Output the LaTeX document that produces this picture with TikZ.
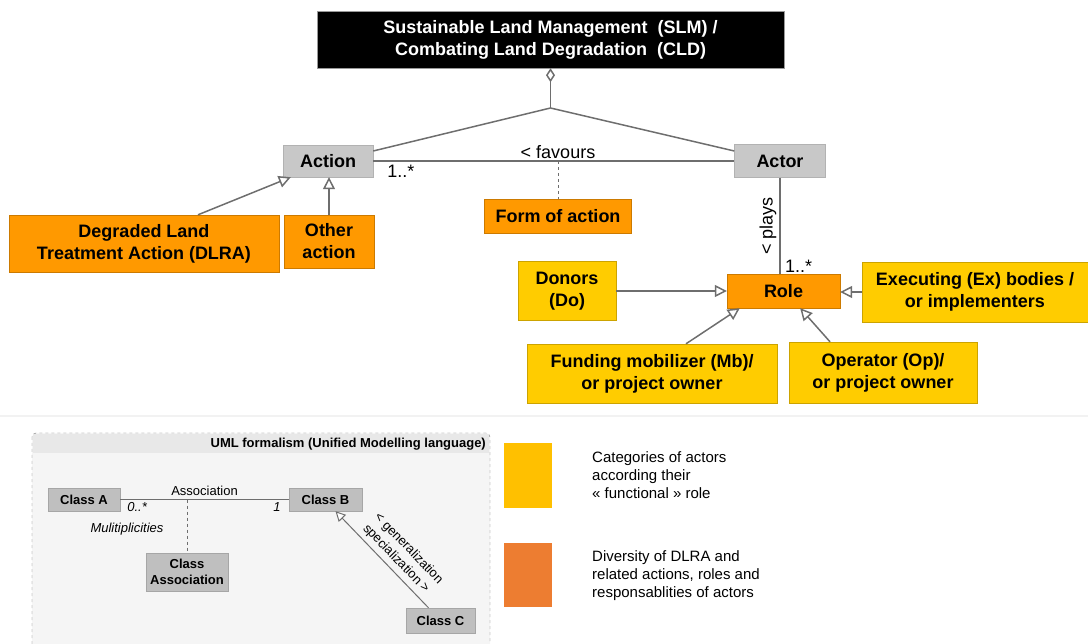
\documentclass[tikz,border=0pt]{standalone}
\usepackage{fontspec}
\setmainfont{Liberation Sans}
\usetikzlibrary{arrows.meta,calc}

\definecolor{orangebox}{HTML}{FF9900}
\definecolor{yellowbox}{HTML}{FFCC00}
\definecolor{graybox}{HTML}{C8C8C8}
\definecolor{linegray}{HTML}{6E6E6E}
\definecolor{legyellow}{HTML}{FFC000}
\definecolor{legorange}{HTML}{ED7D31}

\tikzset{
  bigfont/.style={font=\fontsize{18}{22}\selectfont\bfseries},
  lblfont/.style={font=\fontsize{18}{22}\selectfont},
  umlfont/.style={font=\fontsize{13}{16}\selectfont},
  orangebx/.style={bigfont, draw=orangebox!80!black, fill=orangebox, align=center, inner sep=0pt},
  yellowbx/.style={bigfont, draw=yellowbox!80!black, fill=yellowbox, align=center, inner sep=0pt},
  graybx/.style={bigfont, draw=black!30, fill=graybox, align=center, inner sep=0pt},
  classbx/.style={font=\fontsize{13}{16}\selectfont\bfseries, draw=black!35, fill=black!25, align=center, inner sep=0pt},
  link/.style={draw=linegray, line width=1.5pt},
  gen/.style={link, -{Triangle[open, fill=white, length=12pt, width=12pt]}},
  smallgen/.style={link, -{Triangle[open, fill=white, length=10pt, width=10pt]}},
}

\begin{document}
\begin{tikzpicture}[x=1pt, y=-1pt]
        \useasboundingbox (0,0) rectangle (1088,644);

        % main model
        \node[bigfont, fill=black, draw=black!40, text=white, align=center, minimum width=467, minimum height=57, inner sep=0pt] (slm) at (550.5,39.5) {Sustainable Land Management~~(SLM) /\\Combating Land Degradation~~(CLD)};
        \coordinate (apex) at (550.5,108);

        \node[graybx, minimum width=90, minimum height=32] (action) at (328,161) {Action};
        \node[graybx, minimum width=91, minimum height=33] (actor) at (780,161) {Actor};
        \node[orangebx, minimum width=147, minimum height=34] (form) at (558,216) {Form of action};
        \node[orangebx, minimum width=270, minimum height=57] (dlra) at (144,243.5) {Degraded Land\\Treatment Action (DLRA)};
        \node[orangebx, minimum width=90, minimum height=53] (other) at (329,241.5) {Other\\action};

        \draw[link, {Diamond[open, fill=white, length=14pt, width=9pt]}-] (slm.south) -- (apex);
        \draw[link] (apex) -- ([yshift=10]action.east);
        \draw[link] (apex) -- ([yshift=10]actor.west);
        \draw[link] (action.east) -- (actor.west);
        \node[lblfont, above, inner sep=2pt] (favours) at (form.north |- action.east) {< favours};
        \node[lblfont, anchor=north west, inner sep=0pt] (multact) at ([xshift=14, yshift=-4]action.east) {1..*};
        \draw[link, dashed, line width=1pt] (form.north |- action.east) -- (form.north);

        \draw[gen] ($(dlra.north)+(54,0)$) -- ($(action.south west)+(8,0)$);
        \draw[gen] (other.north) -- (other.north |- action.south);

        % roles
        \node[orangebx, minimum width=113, minimum height=34] (role) at (783.5,291) {Role};
        \node[yellowbx, minimum width=98, minimum height=59] (donors) at (567,291) {Donors\\(Do)};
        \node[yellowbx, minimum width=226, minimum height=60] (exec) at (975,292) {Executing (Ex) bodies /\\or implementers};
        \node[yellowbx, minimum width=250, minimum height=59] (funding) at (652,373.5) {Funding mobilizer (Mb)/\\or project owner};
        \node[yellowbx, minimum width=188, minimum height=61] (operator) at (883,372.5) {Operator (Op)/\\or project owner};

        \draw[link] (actor.south) -- (actor.south |- role.north)
                node[midway, lblfont, rotate=90, anchor=south, inner sep=3pt] {< plays};
        \node[lblfont, anchor=south west, inner sep=1pt] (multrole) at ([xshift=4]actor.south |- role.north) {1..*};

        \draw[gen] (donors.east) -- (donors.east -| role.west);
        \draw[gen] (exec.west) -- (exec.west -| role.east);
        \draw[gen] ($(funding.north)+(34,0)$) -- ($(role.south west)+(13,0)$);
        \draw[gen] ($(operator.north)+(-53,0)$) -- ($(role.south east)+(-40,0)$);

        \draw[draw=black!5, line width=2pt] (0,416) -- (1088,416);

        % UML legend
        \draw[dashed, draw=black!55, fill=black!4, rounded corners=4pt] (32,433) rectangle (490,660);
        \fill[black!9] (33,434) rectangle (489,453);
        \node[font=\fontsize{13}{16}\selectfont\bfseries, anchor=east, inner sep=0pt] (umltitle) at (486,444) {UML formalism (Unified Modelling language)};

        \node[classbx, minimum width=72, minimum height=23] (classa) at (84,499.5) {Class A};
        \node[classbx, minimum width=73, minimum height=23] (classb) at (325.5,499.5) {Class B};
        \node[classbx, minimum width=82, minimum height=38] (classassoc) at (187,572) {Class\\Association};
        \node[classbx, minimum width=69, minimum height=25] (classc) at (440.5,620.5) {Class C};

        \draw[link, line width=1pt] (classa.east) -- (classb.west)
                node[midway, above, umlfont, inner sep=3pt] {Association};
        \node[font=\fontsize{13}{16}\selectfont\itshape, anchor=north west, inner sep=0pt] (mult0) at ([xshift=7, yshift=-3]classa.east) {0..*};
        \node[font=\fontsize{13}{16}\selectfont\itshape, anchor=north east, inner sep=0pt] (mult1) at ([xshift=-8, yshift=-3]classb.west) {1};
        \node[font=\fontsize{13}{16}\selectfont\itshape, inner sep=0pt] (multlbl) at (127,529) {Mulitiplicities};
        \draw[link, dashed, line width=1pt] (classassoc.north |- classa.east) -- (classassoc.north);
        \draw[smallgen, line width=1pt] ($(classc.north)+(-12,0)$) -- ($(classb.south)+(10,0)$)
                node[pos=0.42, sloped, anchor=south, umlfont, align=left, inner sep=4pt] {< generalization\\specialization >};

        % colour legend
        \node[fill=legyellow, minimum width=48, minimum height=65, inner sep=0pt] (legyel) at (528,475.5) {};
        \node[fill=legorange, minimum width=48, minimum height=64, inner sep=0pt] (legora) at (528,575) {};
        \node[font=\fontsize{15}{18}\selectfont, anchor=west, align=left, inner sep=0pt] (legyeltxt) at (592,475) {Categories of actors\\according their\\« functional » role};
        \node[font=\fontsize{15}{18}\selectfont, anchor=west, align=left, inner sep=0pt] (legoratxt) at (592,576) {Diversity of DLRA and\\related actions, roles and\\responsablities of actors};
\end{tikzpicture}
\end{document}
